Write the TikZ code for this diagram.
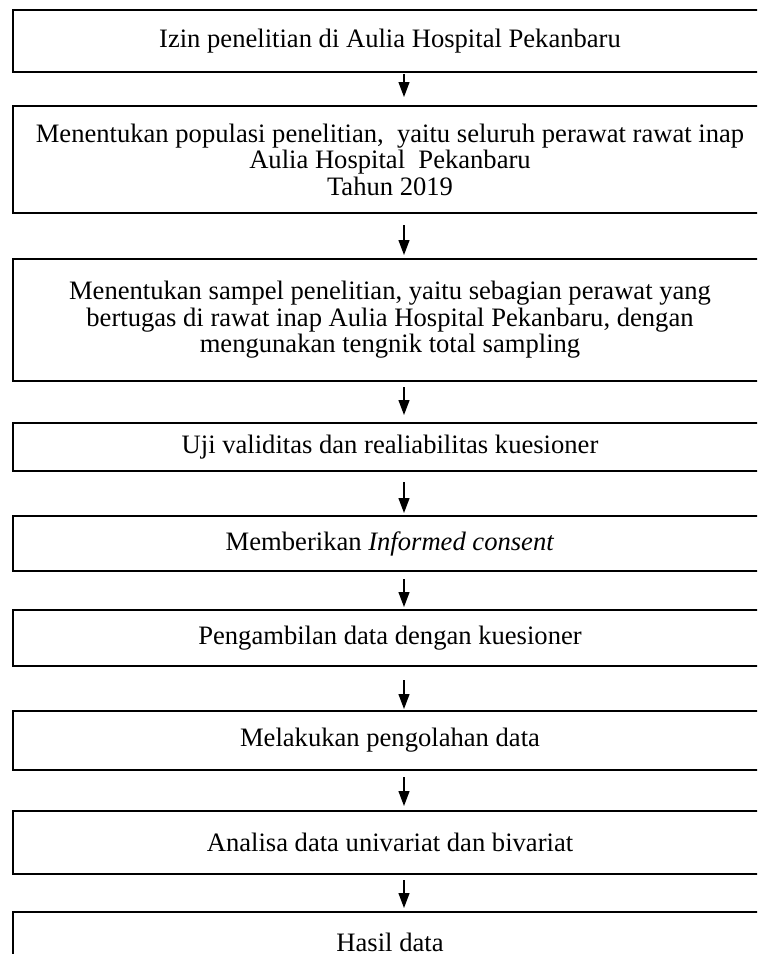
\documentclass[tikz,border=0pt]{standalone}
\usepackage{fontspec}
\setmainfont{Liberation Serif}
\usetikzlibrary{positioning,arrows.meta}
\tikzstyle{box} = [draw,line width=1pt,anchor=north,minimum width=377pt,align=center,inner sep=0pt,font=\fontsize{13.3}{13.25}\selectfont]
\tikzstyle{flow} = [draw,line width=0.6pt,-{Triangle[width=5.5pt,length=7.5pt]}]

\begin{document}
\begin{tikzpicture}[x=0.5pt,y=-0.5pt]
           \useasboundingbox (0,0) rectangle (757,954);
           \clip (0,0) rectangle (757,954);
           \node[box,minimum height=31pt] (izin) at (390,9) {Izin penelitian di Aulia Hospital Pekanbaru};
           \node[box,minimum height=53.5pt] (populasi) at (390,105) {Menentukan populasi penelitian,~ yaitu seluruh perawat rawat inap\\Aulia Hospital~ Pekanbaru\\Tahun 2019};
           \node[box,minimum height=61pt] (sampel) at (390,258) {Menentukan sampel penelitian, yaitu sebagian perawat yang\\bertugas di rawat inap Aulia Hospital Pekanbaru, dengan\\mengunakan tengnik total sampling};
           \node[box,minimum height=24pt] (uji) at (390,422) {Uji validitas dan realiabilitas kuesioner};
           \node[box,minimum height=27.5pt] (consent) at (390,515) {Memberikan \textit{Informed consent}};
           \node[box,minimum height=28pt] (ambil) at (390,609) {Pengambilan data dengan kuesioner};
           \node[box,minimum height=29.5pt] (olah) at (390,710) {Melakukan pengolahan data};
           \node[box,minimum height=31.5pt] (analisa) at (390,810) {Analisa data univariat dan bivariat};
           \node[box,minimum height=30pt] (hasil) at (390,911) {Hasil data};
           % panah antar tahap
           \foreach \a/\b/\s/\e in {izin/populasi/1/8, populasi/sampel/11/3, sampel/uji/5/7, uji/consent/10/2, consent/ambil/7/2, ambil/olah/13/1, olah/analisa/6/4, analisa/hasil/5/3}
              \draw[flow,shorten <=\s*0.5pt,shorten >=\e*0.5pt] ([xshift=7pt]\a.south) -- ([xshift=7pt]\b.north);
\end{tikzpicture}
\end{document}
